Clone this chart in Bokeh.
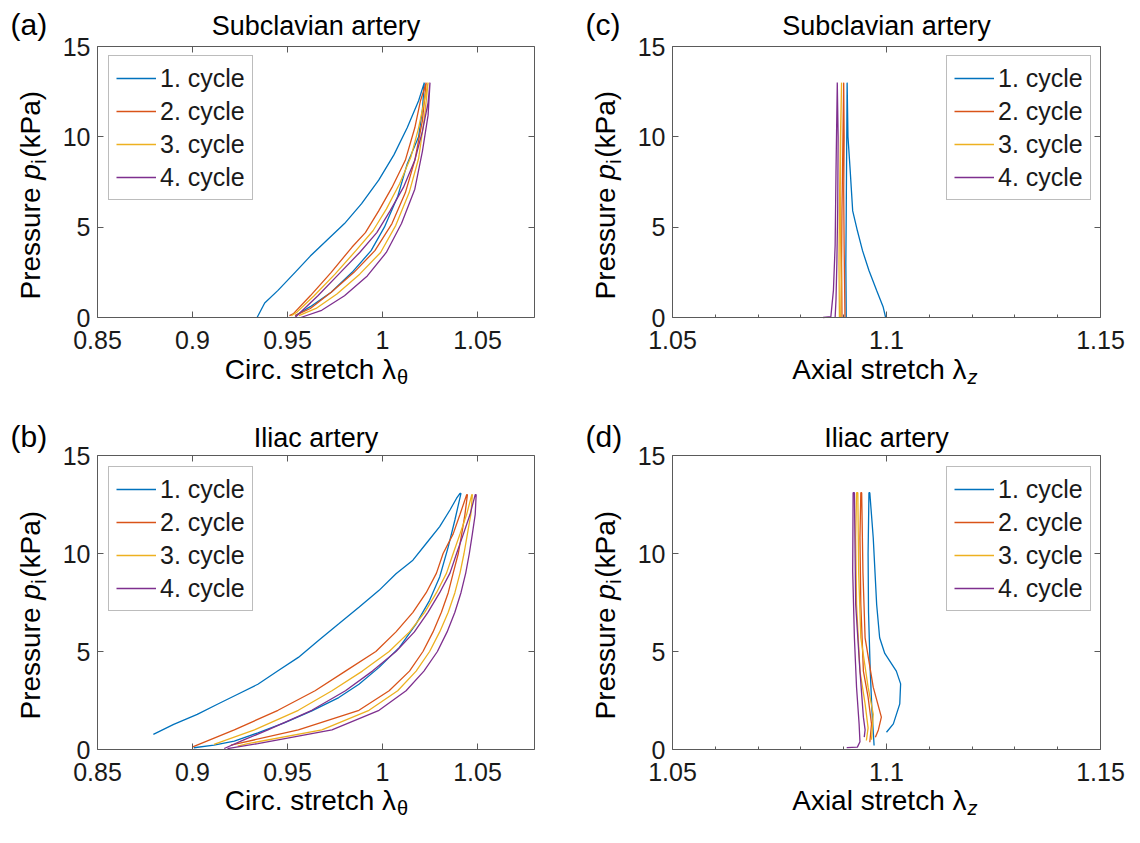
import numpy as np
from bokeh.plotting import figure
from bokeh.models import Range1d, FixedTicker, LinearAxis, Label
from bokeh.layouts import row, column
from bokeh.embed import file_html
from bokeh.resources import INLINE

FONT = "Liberation Sans"
COLORS = ["#0072BD", "#D95319", "#EDB120", "#7E2F8E"]
AX = "#5a5a5a"
TXT = "#1a1a1a"

cycle_labels = ["1. cycle", "2. cycle", "3. cycle", "4. cycle"]

circ_ticks = [0.85, 0.9, 0.95, 1.0, 1.05]
circ_tick_labels = ["0.85", "0.9", "0.95", "1", "1.05"]
axial_ticks = [1.05, 1.1, 1.15]
axial_tick_labels = ["1.05", "1.1", "1.15"]
axial_minor_ticks = [1.06, 1.07, 1.08, 1.09, 1.11, 1.12, 1.13, 1.14]
p_ticks = [0, 5, 10, 15]
p_tick_labels = ["0", "5", "10", "15"]

# ---- (a) Subclavian, circumferential stretch ----
sc_c1_x = [0.934, 0.938, 0.945, 0.954, 0.962, 0.971, 0.980, 0.989, 0.998, 1.006, 1.013, 1.019, 1.022,
           1.021, 1.019, 1.013, 1.008, 1.001, 0.994, 0.984, 0.973, 0.962, 0.954]
sc_c1_y = [0.0, 0.8, 1.5, 2.5, 3.4, 4.3, 5.2, 6.3, 7.6, 9.0, 10.5, 12.0, 13.0,
           11.5, 10.0, 8.5, 6.7, 5.0, 3.7, 2.5, 1.4, 0.6, 0.1]
sc_c2_x = [0.951, 0.953, 0.962, 0.973, 0.984, 0.991, 0.998, 1.005, 1.012, 1.017, 1.020, 1.023,
           1.021, 1.017, 1.012, 1.005, 0.996, 0.985, 0.973, 0.962, 0.954]
sc_c2_y = [0.1, 0.2, 1.2, 2.5, 3.9, 4.7, 5.9, 7.2, 8.7, 10.5, 12.0, 13.0,
           10.9, 8.7, 6.9, 5.2, 3.7, 2.5, 1.4, 0.5, 0.1]
sc_c3_x = [0.952, 0.955, 0.964, 0.975, 0.986, 0.995, 1.002, 1.009, 1.015, 1.019, 1.022, 1.024,
           1.022, 1.019, 1.014, 1.007, 0.999, 0.988, 0.976, 0.965, 0.956]
sc_c3_y = [0.1, 0.3, 1.2, 2.4, 3.7, 4.8, 6.0, 7.4, 8.9, 10.5, 12.0, 13.0,
           11.0, 8.8, 6.9, 5.1, 3.6, 2.4, 1.3, 0.5, 0.1]
sc_c4_x = [0.954, 0.957, 0.966, 0.977, 0.988, 0.997, 1.004, 1.011, 1.017, 1.021, 1.024, 1.025,
           1.024, 1.021, 1.017, 1.010, 1.002, 0.992, 0.980, 0.968, 0.957]
sc_c4_y = [0.0, 0.3, 1.2, 2.4, 3.6, 4.7, 5.9, 7.2, 8.7, 10.3, 11.9, 13.0,
           11.2, 9.2, 7.1, 5.2, 3.6, 2.3, 1.2, 0.4, 0.0]

# ---- (c) Subclavian, axial stretch ----
sa_c1_x = [1.0906, 1.0905, 1.0906, 1.0907, 1.0908,
           1.0910, 1.0915, 1.0921, 1.0932, 1.0944, 1.0959, 1.0977, 1.0992, 1.0998]
sa_c1_y = [0.0, 3.0, 6.0, 9.5, 13.0,
           10.0, 8.2, 5.9, 4.8, 3.7, 2.6, 1.5, 0.6, 0.0]
sa_c2_x = [1.0896, 1.0895, 1.0896, 1.0898, 1.0900,
           1.0901, 1.0900, 1.0901, 1.0902, 1.0903]
sa_c2_y = [0.0, 3.0, 6.0, 9.5, 13.0,
           10.0, 7.0, 4.0, 2.0, 0.0]
sa_c3_x = [1.0890, 1.0889, 1.0890, 1.0892, 1.0895,
           1.0893, 1.0892, 1.0893, 1.0894, 1.0893]
sa_c3_y = [0.0, 3.0, 6.0, 9.5, 13.0,
           10.0, 7.0, 4.0, 2.0, 0.0]
sa_c4_x = [1.0852, 1.0870, 1.0876, 1.0880, 1.0882, 1.0885,
           1.0887, 1.0886, 1.0884, 1.0882, 1.0880]
sa_c4_y = [0.0, 0.05, 1.5, 4.0, 8.0, 13.0,
           10.0, 6.0, 3.0, 1.0, 0.0]

# ---- (b) Iliac, circumferential stretch ----
ic_c1_x = [0.8794, 0.8901, 0.9025, 0.9131, 0.9238, 0.9344, 0.9450, 0.9557, 0.9663, 0.9770,
           0.9876, 0.9982, 1.0071, 1.0160, 1.0230, 1.0301, 1.0355, 1.0390, 1.0408, 1.0413,
           1.0381, 1.0346, 1.0301, 1.0248, 1.0177, 1.0089, 0.9982, 0.9876, 0.9770, 0.9628,
           0.9486, 0.9344, 0.9220, 0.9113, 0.9007]
ic_c1_y = [0.77, 1.28, 1.79, 2.31, 2.82, 3.33, 4.02, 4.70, 5.56, 6.41,
           7.26, 8.12, 8.97, 9.66, 10.51, 11.37, 12.22, 12.82, 13.07, 13.07,
           11.71, 10.34, 8.80, 7.61, 6.41, 5.21, 4.19, 3.33, 2.65, 1.97,
           1.37, 0.85, 0.43, 0.22, 0.09]
ic_c2_x = [0.8998, 0.9220, 0.9450, 0.9645, 0.9805, 0.9965, 1.0071, 1.0160, 1.0230, 1.0284,
           1.0319, 1.0372, 1.0408, 1.0443,
           1.0447, 1.0434, 1.0417, 1.0399, 1.0372, 1.0346, 1.0310, 1.0266, 1.0213, 1.0142,
           1.0035, 0.9876, 0.9557, 0.9238, 0.9202]
ic_c2_y = [0.12, 1, 2, 3, 4, 5, 6, 7, 8, 9, 10, 11, 12, 13,
           13, 12, 11, 10, 9, 8, 7, 6, 5, 4, 3, 2, 1, 0.3, 0.22]
ic_c3_x = [0.9113, 0.9326, 0.9557, 0.9734, 0.9894, 1.0035, 1.0142, 1.0222, 1.0284, 1.0337,
           1.0372, 1.0408, 1.0443, 1.0470,
           1.0473, 1.0465, 1.0447, 1.0429, 1.0408, 1.0381, 1.0346, 1.0301, 1.0248, 1.0177,
           1.0080, 0.9929, 0.9681, 0.9291, 0.9238]
ic_c3_y = [0.26, 1, 2, 3, 4, 5, 6, 7, 8, 9, 10, 11, 12, 13,
           13, 12, 11, 10, 9, 8, 7, 6, 5, 4, 3, 2, 1, 0.3, 0.17]
ic_c4_x = [0.9167, 0.9273, 0.9397, 0.9628, 0.9805, 0.9947, 1.0071, 1.0168, 1.0239, 1.0301,
           1.0355, 1.0390, 1.0426, 1.0461, 1.0488,
           1.0493, 1.0488, 1.0473, 1.0457, 1.0438, 1.0413, 1.0381, 1.0340, 1.0289, 1.0218,
           1.0124, 0.9982, 0.9734, 0.9344, 0.9184]
ic_c4_y = [0.05, 0.5, 1, 2, 3, 4, 5, 6, 7, 8, 9, 10, 11, 12, 13,
           13, 12, 11, 10, 9, 8, 7, 6, 5, 4, 3, 2, 1, 0.3, 0.05]

# ---- (d) Iliac, axial stretch ----
ia_c1_x = [1.1000, 1.1016, 1.1031, 1.1033, 1.1023, 1.0996, 1.0984, 1.0977, 1.0969, 1.0961,
           1.0959, 1.0957, 1.0958, 1.0962, 1.0966, 1.0971]
ia_c1_y = [0.88, 1.31, 2.33, 3.35, 4.0, 4.9, 5.7, 7.4, 10.8, 13.1,
           13.1, 10.0, 7.0, 4.0, 2.0, 0.2]
ia_c2_x = [1.0961, 1.0965, 1.0957, 1.0946, 1.0940, 1.0938, 1.0940,
           1.0942, 1.0945, 1.0950, 1.0969, 1.0988, 1.0981, 1.0974]
ia_c2_y = [0.37, 1.3, 2.67, 4.0, 7.4, 10.8, 13.1,
           13.1, 9.0, 5.7, 3.18, 1.65, 1.0, 0.63]
ia_c3_x = [1.0953, 1.0957, 1.0950, 1.0938, 1.0930, 1.0928, 1.0930,
           1.0933, 1.0935, 1.0940, 1.0957, 1.0969, 1.0965]
ia_c3_y = [0.46, 1.1, 2.33, 4.0, 7.4, 10.8, 13.1,
           13.1, 9.0, 5.7, 3.18, 1.8, 0.5]
ia_c4_x = [1.0907, 1.0932, 1.0938, 1.0936, 1.0930, 1.0925, 1.0921, 1.0922,
           1.0925, 1.0928, 1.0938, 1.0946, 1.0950, 1.0948]
ia_c4_y = [0.1, 0.12, 0.4, 1.3, 3.18, 5.7, 9.1, 13.1,
           13.1, 7.4, 4.0, 1.65, 1.0, 0.63]


def box_axis(loc, bounds, ticker, labels, show):
    ax = LinearAxis(fixed_location=loc, bounds=bounds, ticker=ticker,
                    major_label_overrides=labels,
                    axis_line_color=AX, axis_line_width=1,
                    major_tick_line_color=AX, minor_tick_line_color=AX,
                    major_tick_in=6, major_tick_out=0,
                    minor_tick_in=3, minor_tick_out=0)
    if show:
        ax.major_label_text_font = FONT
        ax.major_label_text_font_size = "25px"
        ax.major_label_text_color = TXT
    else:
        ax.major_label_text_color = None
    return ax


LEG_PAD, LEG_ROW, LEG_SP = 7, 30, 3


def make_panel(xs, ys, xr, xt, xtl, xminor, title, letter, xlab_main, xlab_sub, sub_italic,
               W, H, box, letter_x, title_y, xlab_y, ylab_c, leg_x, leg_top):
    left, right, top, bottom = box
    x0, x1 = xr
    sx = (right - left) / (x1 - x0)
    sy = (bottom - top) / 15.0
    p = figure(width=W, height=H,
               x_range=Range1d(x0 - left / sx, x1 + (W - right) / sx),
               y_range=Range1d(0 - (H - bottom) / sy, 15 + top / sy),
               output_backend="svg", toolbar_location=None, title=None,
               x_axis_type=None, y_axis_type=None,
               min_border_left=0, min_border_right=0,
               min_border_top=0, min_border_bottom=0)
    p.background_fill_color = "white"
    p.border_fill_color = "white"
    p.outline_line_color = None

    xlabels = dict(zip(xt, xtl))
    ylabels = dict(zip(p_ticks, p_tick_labels))
    bx = box_axis(0, (x0, x1), FixedTicker(ticks=xt, minor_ticks=xminor), xlabels, True)
    bx.major_label_standoff = 13
    p.add_layout(bx, "below")
    p.add_layout(box_axis(15, (x0, x1), FixedTicker(ticks=xt), xlabels, False), "above")
    ly = box_axis(x0, (0, 15), FixedTicker(ticks=p_ticks), ylabels, True)
    ly.major_label_standoff = 7
    p.add_layout(ly, "left")
    p.add_layout(box_axis(x1, (0, 15), FixedTicker(ticks=p_ticks), ylabels, False), "right")

    for i in range(4):
        p.line(xs[i], ys[i], line_color=COLORS[i], line_width=1.3, legend_label=cycle_labels[i])

    lg = p.legend[0]
    lg.padding = LEG_PAD
    lg.spacing = LEG_SP
    lg.label_height = LEG_ROW
    lg.glyph_height = LEG_ROW
    lg.glyph_width = 40
    lg.label_standoff = 4
    lg.margin = 0
    lg.label_text_font = FONT
    lg.label_text_font_size = "25px"
    lg.label_text_color = TXT
    lg.border_line_color = "#7a7a7a"
    lg.border_line_width = 1
    lg.background_fill_color = "white"
    lg.background_fill_alpha = 1.0
    leg_h = 2 * LEG_PAD + 4 * LEG_ROW + 3 * LEG_SP
    lg.location = (leg_x, H - leg_top - leg_h)

    def lbl(text, x, y_down, size, align="center", baseline="middle", style="normal", angle=0.0):
        p.add_layout(Label(x=x, y=H - y_down, x_units="screen", y_units="screen",
                           text=text, text_font=FONT, text_font_size=size,
                           text_font_style=style, text_color="black",
                           text_align=align, text_baseline=baseline, angle=angle))

    cx = (left + right) / 2
    lbl(title, cx, title_y, "27px")
    lbl(letter, letter_x, title_y - 1, "30px", align="left")

    # x label with subscript
    x_split = cx + 80
    lbl(xlab_main, x_split, xlab_y, "28px", align="right")
    lbl(xlab_sub, x_split + 1, xlab_y + 7, "20px", align="left",
        style="italic" if sub_italic else "normal")

    # y label "Pressure p_i (kPa)", rotated
    ylx = left - 67
    y_start = ylab_c + 104
    y_split = y_start - 119.8
    ang = np.pi / 2
    lbl("Pressure ", ylx, y_split, "28px", align="right", angle=ang)
    lbl("p", ylx, y_split, "28px", align="left", style="italic", angle=ang)
    lbl("i", ylx + 8, y_split - 16, "20px", align="left", angle=ang)
    lbl("(kPa)", ylx, y_split - 22, "28px", align="left", angle=ang)
    return p


W = 570
H1, H2 = 410, 433
pa = make_panel([sc_c1_x, sc_c2_x, sc_c3_x, sc_c4_x], [sc_c1_y, sc_c2_y, sc_c3_y, sc_c4_y],
                (0.85, 1.08), circ_ticks, circ_tick_labels, [], "Subclavian artery", "(a)",
                "Circ. stretch λ", "θ", False,
                W, H1, (97, 534, 46, 317), 10, 25, 369, 195, 108, 57)
pc = make_panel([sa_c1_x, sa_c2_x, sa_c3_x, sa_c4_x], [sa_c1_y, sa_c2_y, sa_c3_y, sa_c4_y],
                (1.05, 1.15), axial_ticks, axial_tick_labels, axial_minor_ticks,
                "Subclavian artery", "(c)",
                "Axial stretch λ", "z", True,
                W, H1, (102, 530, 46, 317), 15, 25, 369, 195, 376, 57)
pb = make_panel([ic_c1_x, ic_c2_x, ic_c3_x, ic_c4_x], [ic_c1_y, ic_c2_y, ic_c3_y, ic_c4_y],
                (0.85, 1.08), circ_ticks, circ_tick_labels, [], "Iliac artery", "(b)",
                "Circ. stretch λ", "θ", False,
                W, H2, (97, 534, 45, 339), 10, 27, 390, 205, 108, 58)
pd_ = make_panel([ia_c1_x, ia_c2_x, ia_c3_x, ia_c4_x], [ia_c1_y, ia_c2_y, ia_c3_y, ia_c4_y],
                 (1.05, 1.15), axial_ticks, axial_tick_labels, axial_minor_ticks,
                 "Iliac artery", "(d)",
                 "Axial stretch λ", "z", True,
                 W, H2, (102, 530, 45, 339), 15, 27, 390, 205, 376, 58)

layout = column(row(pa, pc), row(pb, pd_))
open("out.html", "w").write(file_html(layout, INLINE))
